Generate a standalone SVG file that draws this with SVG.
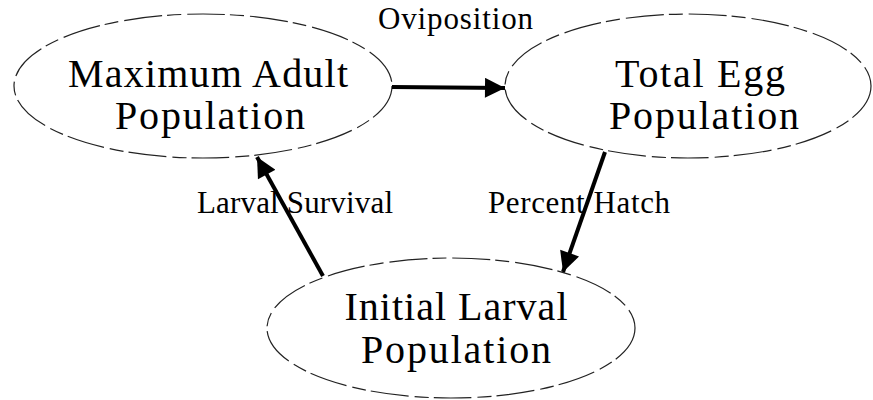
<svg xmlns="http://www.w3.org/2000/svg" width="873" height="400" viewBox="0 0 873 400">
<defs>
<style>
.node ellipse{fill:none;stroke:#222;stroke-width:1.2;stroke-dasharray:38 5 14 6}
.nt{font-family:"Liberation Serif","Times New Roman",serif;font-size:40px;fill:#000;text-anchor:middle}
.el{font-family:"Liberation Serif","Times New Roman",serif;font-size:31px;fill:#000}
.conn line{stroke:#000;stroke-width:4;marker-end:url(#ah)}
</style>
<marker id="ah" viewBox="0 0 10 10" refX="10" refY="5" markerWidth="7" markerHeight="5" orient="auto" markerUnits="strokeWidth">
<path d="M0,0 L10,5 L0,10 z" fill="#000"/>
</marker>
</defs>
<rect width="873" height="400" fill="#fff"/>
<g id="node-adult" class="node">
<ellipse cx="203" cy="86" rx="189" ry="72"/>
<text class="nt" x="208" y="87" textLength="280">Maximum Adult</text>
<text class="nt" x="210" y="129" textLength="190">Population</text>
</g>
<g id="node-egg" class="node">
<ellipse cx="688" cy="86" rx="183" ry="72"/>
<text class="nt" x="700" y="87" textLength="170">Total Egg</text>
<text class="nt" x="704" y="129" textLength="190">Population</text>
</g>
<g id="node-larval" class="node">
<ellipse cx="451" cy="328" rx="184" ry="70"/>
<text class="nt" x="456" y="320" textLength="223">Initial Larval</text>
<text class="nt" x="456" y="363" textLength="190">Population</text>
</g>
<g id="connectors" class="conn">
<line x1="392" y1="87" x2="505" y2="88"/>
<line x1="323" y1="276" x2="257" y2="157"/>
<line x1="605" y1="152" x2="563" y2="272"/>
</g>
<g id="labels">
<text class="el" x="378" y="29" textLength="155">Oviposition</text>
<text class="el" x="197" y="213" textLength="196">Larval Survival</text>
<text class="el" x="488" y="213" textLength="182">Percent Hatch</text>
</g>
</svg>
